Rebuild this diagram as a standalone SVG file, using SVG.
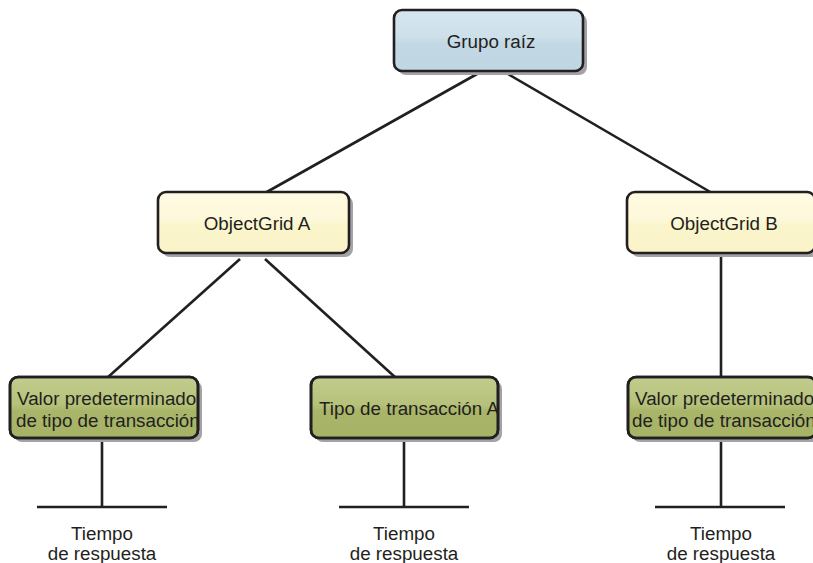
<svg xmlns="http://www.w3.org/2000/svg" width="813" height="563" viewBox="0 0 813 563">
<defs>
<linearGradient id="gBlue" x1="0" y1="0" x2="0" y2="1">
<stop offset="0" stop-color="#d6e6ef"/><stop offset="0.45" stop-color="#cde0ea"/><stop offset="0.55" stop-color="#c2d8e4"/><stop offset="1" stop-color="#c0d6e3"/>
</linearGradient>
<linearGradient id="gYellow" x1="0" y1="0" x2="0" y2="1">
<stop offset="0" stop-color="#fffbe3"/><stop offset="0.45" stop-color="#fdf8da"/><stop offset="0.55" stop-color="#fbf5cc"/><stop offset="1" stop-color="#faf3c8"/>
</linearGradient>
<linearGradient id="gGreen" x1="0" y1="0" x2="0" y2="1">
<stop offset="0" stop-color="#c2cc8e"/><stop offset="0.45" stop-color="#b6c27a"/><stop offset="0.55" stop-color="#a9b66a"/><stop offset="1" stop-color="#a6b366"/>
</linearGradient>
<clipPath id="c1"><rect x="10" y="377" width="188" height="61" rx="8"/></clipPath>
<clipPath id="c2"><rect x="311" y="377" width="187" height="61" rx="8"/></clipPath>
<clipPath id="c3"><rect x="628" y="377" width="188" height="61" rx="8"/></clipPath>
</defs>
<style>
.shadow{fill:#a3a3a5;stroke:none}
.box{stroke:#231f20;stroke-width:2.6}
.blue{fill:url(#gBlue)}
.yellow{fill:url(#gYellow)}
.green{fill:url(#gGreen)}
text{font-family:"Liberation Sans",Arial,sans-serif;font-size:18.8px;fill:#231f20}
.mid{text-anchor:middle}
.line{stroke:#231f20;stroke-width:2.6;fill:none}
</style>
<g id="connectors">
<line class="line" x1="477" y1="74" x2="265" y2="193"/>
<line class="line" x1="508" y1="74" x2="712" y2="193"/>
<line class="line" x1="240" y1="259" x2="107" y2="378"/>
<line class="line" x1="265" y1="259" x2="396" y2="378"/>
<line class="line" x1="721" y1="256" x2="721" y2="378"/>
<line class="line" x1="102" y1="441" x2="102" y2="507"/>
<line class="line" x1="37" y1="507" x2="167" y2="507"/>
<line class="line" x1="404" y1="441" x2="404" y2="507"/>
<line class="line" x1="339" y1="507" x2="469" y2="507"/>
<line class="line" x1="721" y1="441" x2="721" y2="507"/>
<line class="line" x1="655" y1="507" x2="785" y2="507"/>
</g>
<g id="root">
<rect class="shadow" x="398" y="14" width="189" height="61" rx="8"/>
<rect class="box blue" x="394" y="10" width="189" height="61" rx="8"/>
<text class="mid" x="491" y="48">Grupo raíz</text>
</g>
<g id="ogA">
<rect class="shadow" x="162" y="196" width="191" height="61" rx="8"/>
<rect class="box yellow" x="158" y="192" width="191" height="61" rx="8"/>
<text class="mid" x="257" y="230">ObjectGrid A</text>
</g>
<g id="ogB">
<rect class="shadow" x="631" y="196" width="188" height="61" rx="8"/>
<rect class="box yellow" x="627" y="192" width="188" height="61" rx="8"/>
<text class="mid" x="724" y="230">ObjectGrid B</text>
</g>
<g id="default1">
<rect class="shadow" x="14" y="381" width="188" height="61" rx="8"/>
<rect class="box green" x="10" y="377" width="188" height="61" rx="8"/>
<g clip-path="url(#c1)">
<text x="17" y="405">Valor predeterminado</text>
<text x="16" y="427">de tipo de transacción</text>
</g>
<rect x="10" y="377" width="188" height="61" rx="8" fill="none" stroke="#231f20" stroke-width="2.6"/>
</g>
<g id="typeA">
<rect class="shadow" x="315" y="381" width="187" height="61" rx="8"/>
<rect class="box green" x="311" y="377" width="187" height="61" rx="8"/>
<g clip-path="url(#c2)">
<text x="319" y="415">Tipo de transacción A</text>
</g>
<rect x="311" y="377" width="187" height="61" rx="8" fill="none" stroke="#231f20" stroke-width="2.6"/>
</g>
<g id="default2">
<rect class="shadow" x="632" y="381" width="188" height="61" rx="8"/>
<rect class="box green" x="628" y="377" width="188" height="61" rx="8"/>
<g clip-path="url(#c3)">
<text x="635" y="405">Valor predeterminado</text>
<text x="632" y="427">de tipo de transacción</text>
</g>
<rect x="628" y="377" width="188" height="61" rx="8" fill="none" stroke="#231f20" stroke-width="2.6"/>
</g>
<g id="label1">
<text class="mid" x="102" y="540">Tiempo</text>
<text class="mid" x="102" y="560">de respuesta</text>
</g>
<g id="label2">
<text class="mid" x="404" y="540">Tiempo</text>
<text class="mid" x="404" y="560">de respuesta</text>
</g>
<g id="label3">
<text class="mid" x="721" y="540">Tiempo</text>
<text class="mid" x="721" y="560">de respuesta</text>
</g>
</svg>
